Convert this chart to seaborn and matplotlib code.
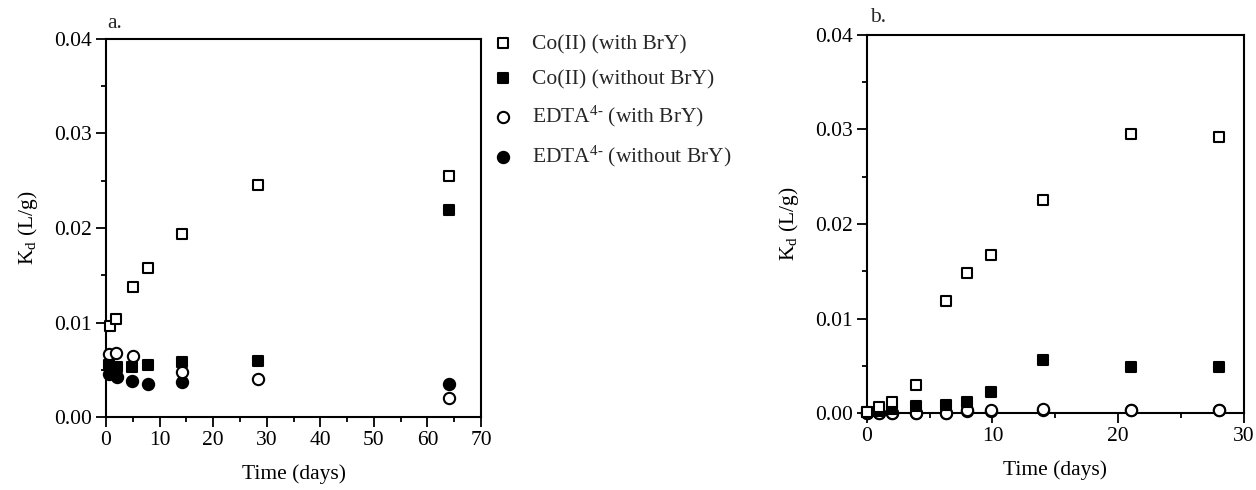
import matplotlib
matplotlib.use("Agg")
import matplotlib.pyplot as plt
from matplotlib.ticker import MultipleLocator, FormatStrFormatter
import seaborn as sns
import pandas as pd

# ---------------- data: panel a ----------------
a_co_with_t = [0.7, 1.9, 5.0, 7.9, 14.2, 28.3, 64.0]
a_co_with_kd = [0.0096, 0.0104, 0.0138, 0.0158, 0.0194, 0.0246, 0.0255]
a_co_without_t = [0.5, 2.0, 4.9, 7.9, 14.2, 28.3, 64.0]
a_co_without_kd = [0.0055, 0.0053, 0.0053, 0.0055, 0.0058, 0.0059, 0.0219]
a_edta_with_t = [0.6, 1.9, 5.0, 14.2, 28.3, 64.0]
a_edta_with_kd = [0.0067, 0.0068, 0.0065, 0.0048, 0.0040, 0.0020]
a_edta_without_t = [0.5, 2.0, 4.9, 7.9, 14.2, 64.0]
a_edta_without_kd = [0.0046, 0.0042, 0.0038, 0.0035, 0.0037, 0.0035]

# ---------------- data: panel b ----------------
b_t = [0, 1, 2, 3.9, 6.3, 8, 9.9, 14, 21, 28]
b_co_with_kd = [0.0001, 0.0006, 0.0012, 0.0030, 0.0118, 0.0148, 0.0167, 0.0225, 0.0295, 0.0292]
b_co_without_kd = [0.0001, 0.0002, 0.0004, 0.0007, 0.0008, 0.0012, 0.0022, 0.0056, 0.0049, 0.0049]
b_edta_with_kd = [0.0000, 0.0000, 0.0000, 0.0000, 0.0000, 0.0003, 0.0003, 0.0004, 0.0003, 0.0003]
b_edta_without_kd = [0.0000, 0.0000, 0.0000, 0.0000, 0.0000, 0.0002, 0.0002, 0.0003, 0.0003, 0.0003]

series_labels = ["Co(II) (with BrY)", "Co(II) (without BrY)",
                 "EDTA$^{4\u2010}$ (with BrY)", "EDTA$^{4\u2010}$ (without BrY)"]
x_label = "Time (days)"
y_label = "K$_{\\mathrm{d}}$ (L/g)"

sns.set_theme(style="ticks")
plt.rcParams["font.family"] = ["Liberation Serif", "DejaVu Serif"]
plt.rcParams["mathtext.fontset"] = "custom"
plt.rcParams["mathtext.rm"] = "Liberation Serif"
plt.rcParams["mathtext.it"] = "Liberation Serif:italic"
FS = 15.5

fig = plt.figure(figsize=(12.56, 4.9), dpi=100)
W, H = 1256, 490
ax_a = fig.add_axes([106 / W, 1 - 417 / H, 375 / W, 378 / H])
ax_b = fig.add_axes([866.7 / W, 1 - 413 / H, 377.3 / W, 378 / H])

styles = {
    "co_with": dict(marker="s", facecolor="white", s=58, z=6),
    "co_without": dict(marker="s", facecolor="black", s=58, z=5),
    "edta_with": dict(marker="o", facecolor="white", s=66, z=4),
    "edta_without": dict(marker="o", facecolor="black", s=66, z=3),
}


def draw(ax, key, t, kd, label):
    st = styles[key]
    df = pd.DataFrame({"t": t, "kd": kd})
    sns.scatterplot(data=df, x="t", y="kd", ax=ax, marker=st["marker"], s=st["s"],
                    color=st["facecolor"], edgecolor="black", linewidth=1.5,
                    clip_on=False, zorder=st["z"], label=label)


draw(ax_a, "edta_without", a_edta_without_t, a_edta_without_kd, series_labels[3])
draw(ax_a, "edta_with", a_edta_with_t, a_edta_with_kd, series_labels[2])
draw(ax_a, "co_without", a_co_without_t, a_co_without_kd, series_labels[1])
draw(ax_a, "co_with", a_co_with_t, a_co_with_kd, series_labels[0])

draw(ax_b, "edta_without", b_t, b_edta_without_kd, series_labels[3])
draw(ax_b, "edta_with", b_t, b_edta_with_kd, series_labels[2])
draw(ax_b, "co_without", b_t, b_co_without_kd, series_labels[1])
draw(ax_b, "co_with", b_t, b_co_with_kd, series_labels[0])

for ax, xmax, xmaj, xmin in [(ax_a, 70, 10, 5), (ax_b, 30, 10, 5)]:
    ax.set_xlim(0, xmax)
    ax.set_ylim(0, 0.04)
    ax.xaxis.set_major_locator(MultipleLocator(xmaj))
    ax.xaxis.set_minor_locator(MultipleLocator(xmin))
    ax.yaxis.set_major_locator(MultipleLocator(0.01))
    ax.yaxis.set_minor_locator(MultipleLocator(0.005))
    ax.yaxis.set_major_formatter(FormatStrFormatter("%.2f"))
    ax.tick_params(which="major", direction="out", length=7, width=1.3,
                   labelsize=FS, pad=3, color="black", labelcolor="black")
    ax.tick_params(which="minor", direction="out", length=3.5, width=1.3, color="black")
    for sp in ax.spines.values():
        sp.set_visible(True)
        sp.set_linewidth(1.5)
        sp.set_color("black")
    ax.set_xlabel(x_label, fontsize=FS, labelpad=10, color="black")
    ax.set_ylabel(y_label, fontsize=FS, labelpad=10, color="black")
    ax.set_facecolor("white")

handles, labels = ax_a.get_legend_handles_labels()
order = [labels.index(l) for l in series_labels]
handles = [handles[i] for i in order]
labels = [labels[i] for i in order]
ax_a.get_legend().remove()
ax_b.get_legend().remove()

fig.legend(handles, labels, loc="upper left", bbox_to_anchor=(492 / W, 1 - 34 / H),
           frameon=False, fontsize=FS, handlelength=1.0, handletextpad=0.85,
           labelspacing=0.69, borderaxespad=0, borderpad=0)

fig.text(115 / W, 1 - 23 / H, "a.", ha="center", va="center", fontsize=FS)
fig.text(878 / W, 1 - 18 / H, "b.", ha="center", va="center", fontsize=FS)

fig.savefig("out.png", dpi=100, facecolor="white")
